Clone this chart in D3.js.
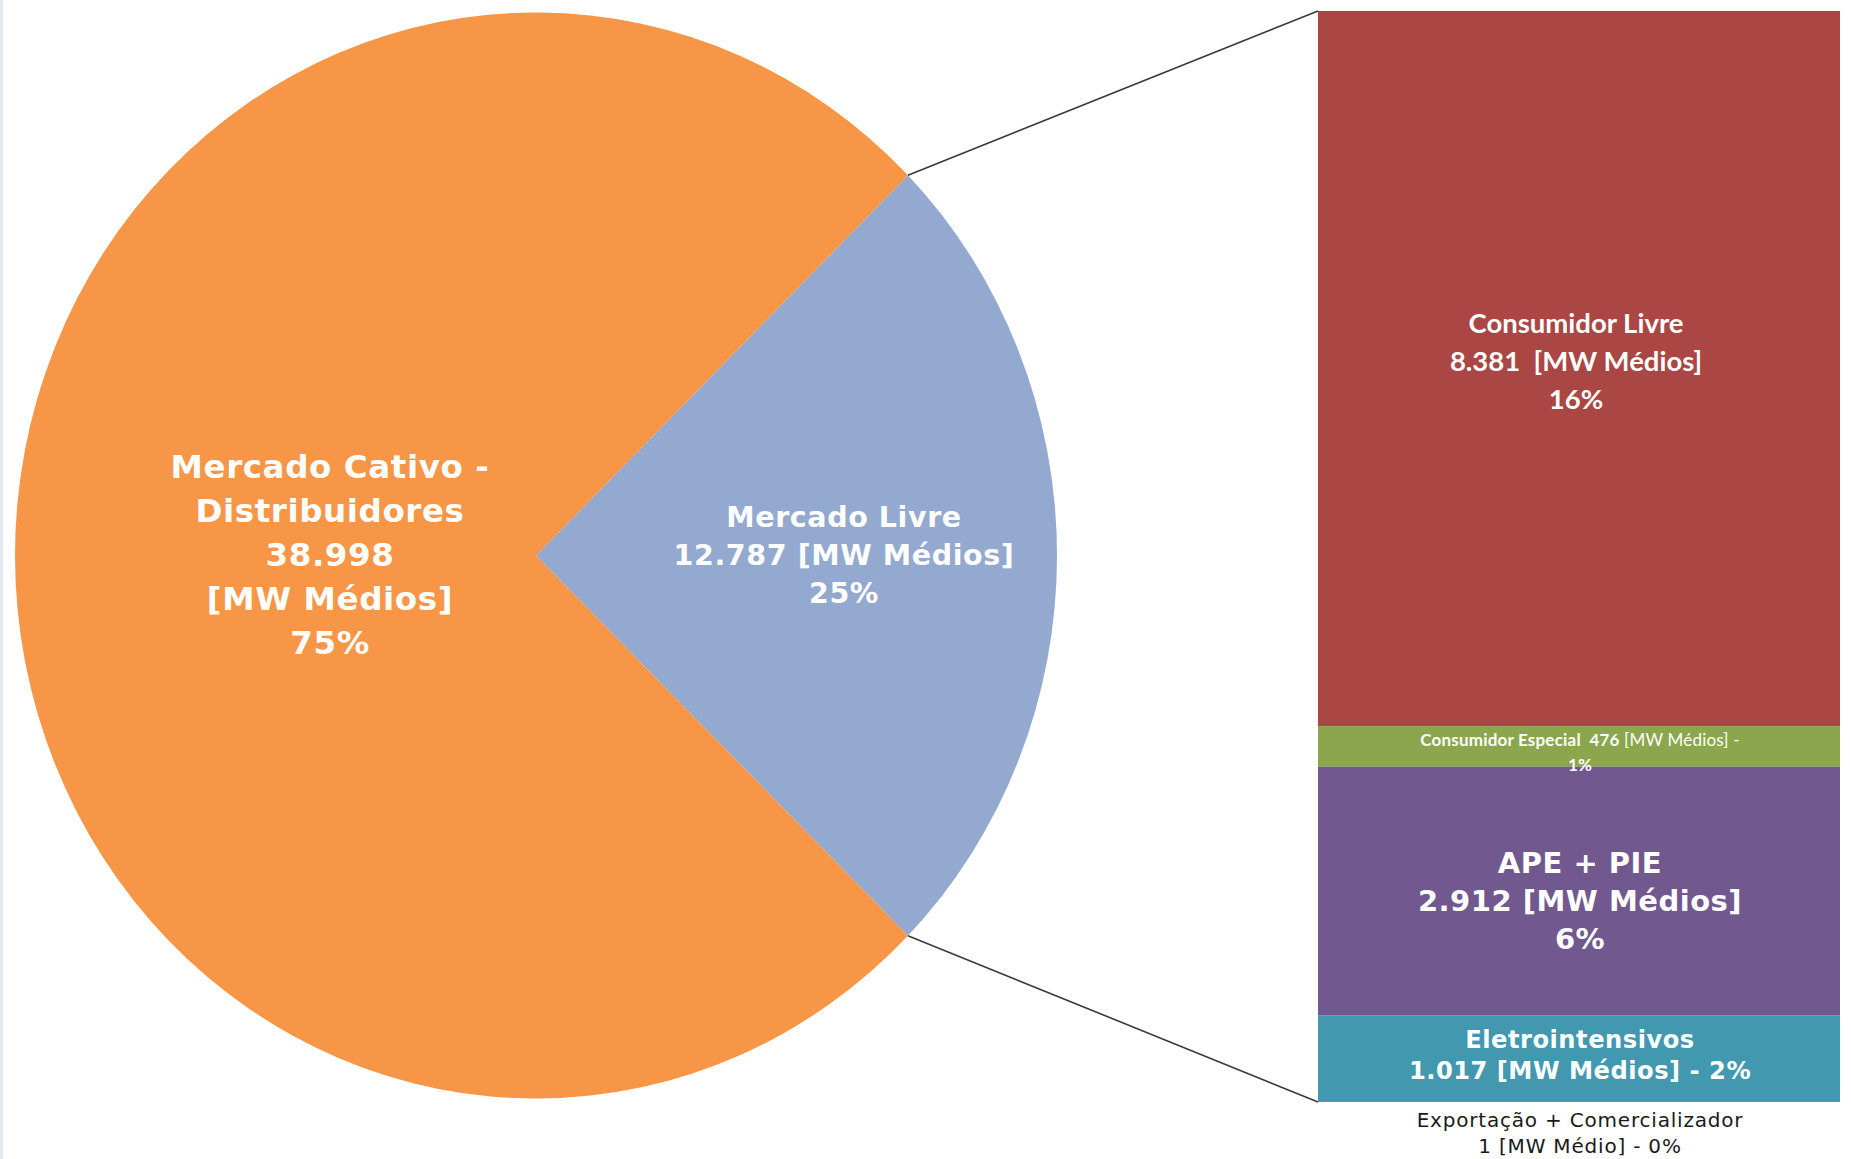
<!DOCTYPE html>
<html>
<head>
<meta charset="utf-8">
<script src="https://cdn.jsdelivr.net/npm/d3@7"></script>
<style>
  html, body { margin: 0; padding: 0; background: #ffffff; }
  svg { display: block; }
  text { white-space: pre; }
</style>
</head>
<body>
<svg id="chart" width="1851" height="1159"></svg>
<script>
// ---- data ----
const pieCategories = ["Mercado Livre", "Mercado Cativo - Distribuidores"];
const pieValues = [12787, 38998];
const pieLabels = [
  ["Mercado Livre", "12.787 [MW Médios]", "25%"],
  ["Mercado Cativo -", "Distribuidores", "38.998", "[MW Médios]", "75%"]
];
const pieColors = ["#93A9CF", "#F79646"];

const barCategories = ["Consumidor Livre", "Consumidor Especial", "APE + PIE", "Eletrointensivos", "Exportação + Comercializador"];
const barValues = [8381, 476, 2912, 1017, 1];
const barLabels = [
  ["Consumidor Livre", "8.381  [MW Médios]", "16%"],
  ["Consumidor Especial  476 [MW Médios] -", "1%"],
  ["APE + PIE", "2.912 [MW Médios]", "6%"],
  ["Eletrointensivos", "1.017 [MW Médios] - 2%"],
  ["Exportação + Comercializador", "1 [MW Médio] - 0%"]
];
const barColors = ["#AA4644", "#8BA64C", "#71588F", "#4198AF", "#4198AF"];

// ---- layout ----
const svg = d3.select("#chart");
svg.append("rect").attr("x", 0).attr("y", 0).attr("width", 3).attr("height", 1159).attr("fill", "#E4E9F2");

const cx = 536, cy = 555.5, rx = 521, ry = 543;
const total = d3.sum(pieValues);
const half = Math.PI * pieValues[0] / total;
const pie = d3.pie().sort(null).value(d => d)
  .startAngle(Math.PI / 2 - half).endAngle(Math.PI / 2 - half + 2 * Math.PI);
const arcs = pie(pieValues);
const arc = d3.arc().innerRadius(0).outerRadius(rx);

const pg = svg.append("g").attr("transform", `translate(${cx},${cy}) scale(1,${ry / rx})`);
pg.selectAll("path").data(arcs).join("path")
  .attr("d", arc).attr("fill", (d, i) => pieColors[i]);

// bar
const barX0 = 1318, barX1 = 1840;
const barSum = d3.sum(barValues);
const y = d3.scaleLinear().domain([0, barSum]).range([11, 1102]);
const cum = d3.cumsum(barValues);
const stack = barValues.map((v, i) => ({ v, y0: i === 0 ? 0 : cum[i - 1], y1: cum[i], i }));
svg.append("g").selectAll("rect").data(stack).join("rect")
  .attr("x", barX0).attr("width", barX1 - barX0)
  .attr("y", d => y(d.y0)).attr("height", d => y(d.y1) - y(d.y0))
  .attr("fill", d => barColors[d.i]);

// connectors
const aTop = arcs[0].startAngle, aBot = arcs[0].endAngle;
const pt = a => [cx + rx * Math.sin(a), cy - ry * Math.cos(a)];
const pTop = pt(aTop), pBot = pt(aBot);
svg.append("line").attr("x1", pTop[0]).attr("y1", pTop[1]).attr("x2", barX0).attr("y2", y(0))
  .attr("stroke", "#3a3a3a").attr("stroke-width", 1.6);
svg.append("line").attr("x1", pBot[0]).attr("y1", pBot[1]).attr("x2", barX0).attr("y2", y(barSum))
  .attr("stroke", "#3a3a3a").attr("stroke-width", 1.6);

// text helper
function block(lines, x, yc, size, lh, opts) {
  const t = svg.append("text")
    .attr("x", x).attr("text-anchor", "middle")
    .attr("font-family", opts.family).attr("font-weight", opts.weight || "bold")
    .attr("font-size", size).attr("fill", opts.fill || "#ffffff")
    .attr("letter-spacing", opts.ls || 0);
  const y0 = yc - (lines.length - 1) * lh / 2;
  lines.forEach((ln, i) => {
    t.append("tspan").attr("x", x).attr("y", y0 + i * lh).attr("dominant-baseline", "central").text(ln);
  });
  return t;
}
const verdana = "'DejaVu Sans', Verdana, sans-serif";
const calibri = "Lato, 'Open Sans', sans-serif";

block(pieLabels[1], 330, 555, 32.5, 44, { family: verdana, ls: 0.6 });
block(pieLabels[0], 844, 555, 28.5, 38, { family: verdana, ls: 0.6 });

block(barLabels[0], 1576, 360, 27.5, 38, { family: calibri });
// green label with mixed weights
{
  const t = svg.append("text").attr("text-anchor", "middle")
    .attr("font-family", calibri).attr("font-size", 17).attr("fill", "#ffffff").attr("letter-spacing", 0.2);
  const l1 = t.append("tspan").attr("x", 1580).attr("y", 739).attr("dominant-baseline", "central");
  l1.append("tspan").attr("font-weight", "bold").text("Consumidor Especial  476 ");
  l1.append("tspan").attr("font-weight", "normal").text("[MW Médios] -");
  t.append("tspan").attr("x", 1580).attr("y", 764).attr("dominant-baseline", "central")
    .attr("font-weight", "bold").text(barLabels[1][1]);
}
block(barLabels[2], 1580, 901, 29, 38, { family: verdana, ls: 0.5 });
block(barLabels[3], 1580, 1055, 24.2, 31, { family: verdana, ls: 0.5 });
block(barLabels[4], 1580, 1133, 20, 26, { family: verdana, weight: "normal", fill: "#1a1a1a", ls: 0.8 });
</script>
</body>
</html>
